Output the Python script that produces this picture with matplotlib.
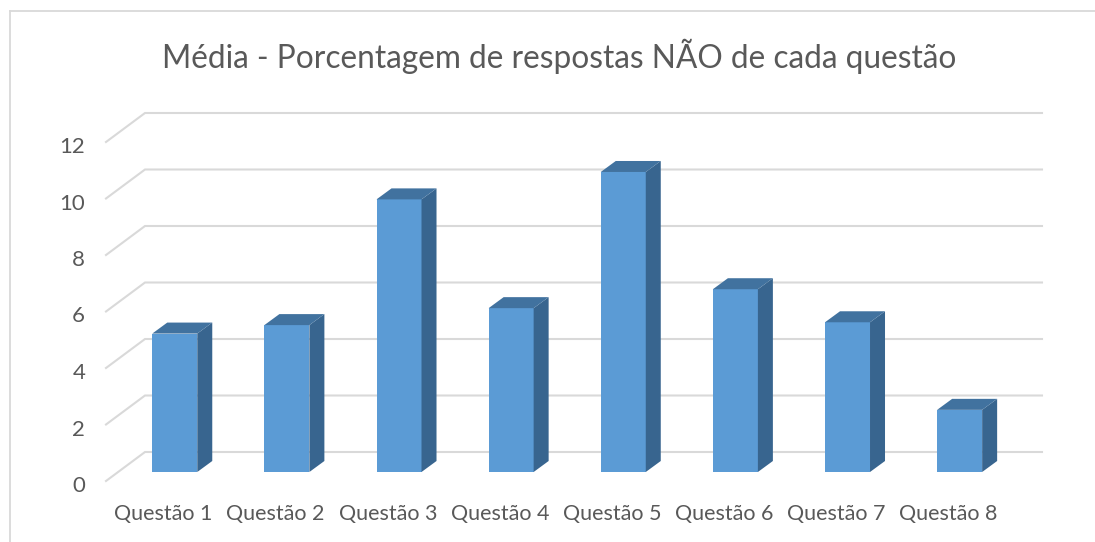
import matplotlib
matplotlib.use("Agg")
import matplotlib.pyplot as plt
from matplotlib.lines import Line2D
from matplotlib.patches import Polygon
from matplotlib.transforms import ScaledTranslation

categories = ["Questão 1", "Questão 2", "Questão 3", "Questão 4",
              "Questão 5", "Questão 6", "Questão 7", "Questão 8"]
values = [4.9, 5.2, 9.65, 5.8, 10.62, 6.47, 5.3, 2.2]
y_ticks = [0, 2, 4, 6, 8, 10, 12]
title = "Média - Porcentagem de respostas NÃO de cada questão"

W, H = 1095, 542
FONT = "Lato"
TXT = "#595959"
GRID = "#D9D9D9"
FRONT, SIDE, TOP = "#5B9BD5", "#38658F", "#41729F"

fig = plt.figure(figsize=(W / 100, H / 100), dpi=100, facecolor="white")
L, R, Y0, Y12 = 106, 1003, 481, 142
ax = fig.add_axes([L / W, 1 - Y0 / H, (R - L) / W, (Y0 - Y12) / H])
ax.set_xlim(-0.5, 7.5)
ax.set_ylim(0, 12)
ax.patch.set_visible(False)
for s in ax.spines.values():
    s.set_visible(False)

px_x = (R - L) / 8
px_y = (Y0 - Y12) / 12
# 3-D oblique offsets, converted from pixels to data units
wall_dx, wall_dy = 39 / px_x, 29 / px_y
depth_dx, depth_dy = 15 / px_x, 11 / px_y
bar_dx, bar_dy = 12.7 / px_x, 9 / px_y
bar_w = 45 / px_x

for t in y_ticks:
    ax.plot([-0.5, -0.5 + wall_dx, 7.5 + wall_dx], [t, t + wall_dy, t + wall_dy],
            color=GRID, lw=1.5, clip_on=False, zorder=1, solid_joinstyle="miter")

for i, v in enumerate(values):
    x0 = i - bar_w / 2 + bar_dx
    x1 = x0 + bar_w
    base = bar_dy
    top = base + v
    ax.bar(x0, v, width=bar_w, bottom=base, align="edge", color=FRONT, zorder=3, clip_on=False)
    ax.add_patch(Polygon([(x1, base), (x1 + depth_dx, base + depth_dy),
                          (x1 + depth_dx, top + depth_dy), (x1, top)],
                         closed=True, facecolor=SIDE, edgecolor="none", zorder=3, clip_on=False))
    ax.add_patch(Polygon([(x0, top), (x1, top), (x1 + depth_dx, top + depth_dy),
                          (x0 + depth_dx, top + depth_dy)],
                         closed=True, facecolor=TOP, edgecolor="none", zorder=3, clip_on=False))

ax.set_xticks(range(len(categories)))
ax.set_xticklabels(categories, fontsize=15.5, color=TXT, family=FONT)
ax.set_yticks(y_ticks)
ax.set_yticklabels([str(t) for t in y_ticks], fontsize=16, color=TXT, family=FONT)
ax.tick_params(axis="both", length=0)
ax.tick_params(axis="x", pad=16.5)
ax.tick_params(axis="y", pad=15)

shift_down = ScaledTranslation(0, -3 / 100, fig.dpi_scale_trans)
for lab in ax.get_yticklabels():
    lab.set_transform(lab.get_transform() + shift_down)
shift_right = ScaledTranslation(1.5 / 100, 0, fig.dpi_scale_trans)
for lab in ax.get_xticklabels():
    lab.set_transform(lab.get_transform() + shift_right)

fig.text(559 / W, 1 - 56 / H, title, ha="center", va="center",
         fontsize=22.8, color=TXT, family=FONT)

fig.add_artist(Line2D([10 / W, 10 / W], [0, 1 - 11 / H], color=GRID, lw=1.3))
fig.add_artist(Line2D([10 / W, 1], [1 - 11 / H, 1 - 11 / H], color=GRID, lw=1.3))

fig.savefig("out.png", dpi=100)
